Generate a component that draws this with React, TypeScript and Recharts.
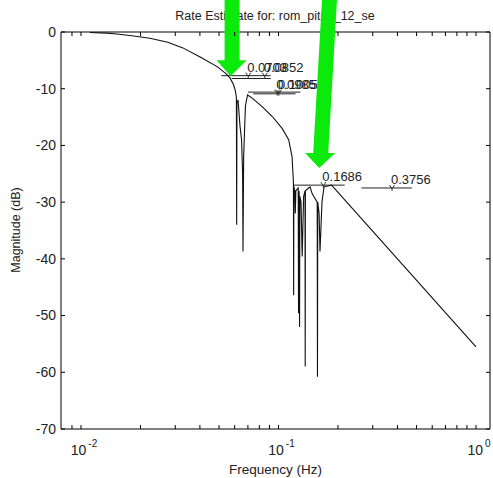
import React from 'react';
import { LineChart, Line, XAxis, YAxis, ReferenceLine, ReferenceDot, Label } from 'recharts';

// magnitude response
const freqHz = [
  0.0111, 0.0135, 0.0152, 0.0185, 0.0223, 0.0275, 0.0328, 0.0401, 0.0489, 0.0540, 0.0568, 0.0592, 0.0604, 0.0612,
  0.0614, 0.0616, 0.0624, 0.0638, 0.0650, 0.0658, 0.0661, 0.0666, 0.0680, 0.0697,
  0.0739, 0.0829, 0.0930, 0.1043, 0.1126, 0.1171, 0.1190,
  0.1193, 0.1196, 0.1208, 0.1216, 0.1224, 0.1258, 0.1263, 0.1268, 0.1273, 0.1278, 0.1283, 0.1300, 0.1318, 0.1340,
  0.1362, 0.1365, 0.1368, 0.1420, 0.1445, 0.1480, 0.1570, 0.1575, 0.1580, 0.1605, 0.1622, 0.1660, 0.1700, 0.1856, 1.0,
];
const magnitudeDb = [
  -0.1, -0.2, -0.35, -0.7, -1.1, -1.8, -2.8, -4.4, -6.1, -7.3, -8.1, -9.3, -10.3, -11.5,
  -34.0, -12.5, -12.0, -16.5, -19.0, -25.0, -38.7, -22.0, -13.0, -11.1,
  -11.7, -13.2, -14.9, -17.0, -19.0, -22.0, -26.5,
  -46.4, -27.2, -28.0, -32.0, -28.0, -27.5, -49.6, -28.0, -28.5, -52.0, -29.0, -30.0, -39.6, -29.0,
  -28.0, -59.0, -28.0, -27.5, -27.3, -28.5, -30.0, -60.8, -30.0, -32.0, -38.7, -30.0, -27.3, -27.0, -55.5,
];

// data cursor bars
const cursorStartHz = [0.0513, 0.058, 0.070, 0.0745, 0.1189, 0.263];
const cursorEndHz = [0.0912, 0.0912, 0.129, 0.122, 0.2163, 0.4732];
const cursorLevelDb = [-7.7, -8.2, -10.6, -10.9, -27.0, -27.5];

const markerHz = [0.0703, 0.0852, 0.0985, 0.1005, 0.1686, 0.3756];
const markerDb = [-7.7, -7.7, -10.7, -10.7, -27.0, -27.5];
const markerText = ['0.0703', '0.0852', '0.0985', '0.1005', '0.1686', '0.3756'];

// green arrows (tip position)
const arrowTipHz = [0.0572, 0.1607];
const arrowTipDb = [-7.8, -24.0];

const xTicks = [
  0.009, 0.01, 0.02, 0.03, 0.04, 0.05, 0.06, 0.07, 0.08, 0.09,
  0.1, 0.2, 0.3, 0.4, 0.5, 0.6, 0.7, 0.8, 0.9, 1,
];
const decadeHz = [0.01, 0.1, 1];
const decadeExp = ['-2', '-1', '0'];
const yTicks = [-70, -60, -50, -40, -30, -20, -10, 0];

const xDomain = [0.00792, 1.177];
const PLOT_TOP = 32;
const PLOT_RIGHT = 490;

const data = freqHz.map((f, i) => ({ f, db: magnitudeDb[i] }));

const XTick = (props: any) => {
  const { x, y, payload } = props;
  const i = decadeHz.findIndex((d) => Math.abs(d - payload.value) < 1e-9);
  return (
    <g>
      <line x1={x} x2={x} y1={y} y2={y - 4} stroke="#000" />
      <line x1={x} x2={x} y1={PLOT_TOP} y2={PLOT_TOP + 4} stroke="#000" />
      {i >= 0 && (
        <text x={x + 3} y={y + 26} textAnchor="middle" fontSize={14} fill="#222">
          10
          <tspan dx={2} dy={-8} fontSize={10}>{decadeExp[i]}</tspan>
        </text>
      )}
    </g>
  );
};

const YTick = (props: any) => {
  const { x, y, payload } = props;
  return (
    <g>
      <line x1={x} x2={x + 4} y1={y} y2={y} stroke="#000" />
      <line x1={PLOT_RIGHT} x2={PLOT_RIGHT - 4} y1={y} y2={y} stroke="#000" />
      <text x={x - 5} y={y} dy="0.35em" textAnchor="end" fontSize={14} fill="#222">
        {payload.value}
      </text>
    </g>
  );
};

const Marker = (text: string) => (props: any) => {
  const { cx, cy } = props;
  return (
    <g>
      <path d={`M${cx - 2.5},${cy - 3} L${cx},${cy + 1} L${cx + 2.5},${cy - 3} M${cx},${cy + 1} L${cx},${cy + 3}`} stroke="#222" fill="none" strokeWidth={0.9} />
      <text x={cx - 1} y={cy - 4} fontSize={13} fill="#222">{text}</text>
    </g>
  );
};

const arrowShapes = [
  'M-6,-80 L9,-80 L9,-16 L16,-16 L0,0 L-14,-16 L-6,-16 Z',
  'M3,-172 L18,-172 L9,-15 L16,-15 L0,0 L-14,-15 L-6,-15 Z',
];

const Arrow = (idx: number) => (props: any) => {
  const { cx, cy } = props;
  return <path d={arrowShapes[idx]} transform={`translate(${cx},${cy})`} fill="#0bea0b" stroke="none" />;
};

export default function App() {
  return (
    <div
      style={{
        position: 'absolute',
        left: 0,
        top: 0,
        width: 493,
        height: 478,
        background: '#fff',
        fontFamily: '"Liberation Sans", Arial, sans-serif',
        overflow: 'hidden',
      }}
    >
      <div
        style={{
          position: 'absolute',
          left: 0,
          top: 9,
          width: 550,
          textAlign: 'center',
          fontSize: 12.5,
          lineHeight: '15px',
          color: '#222',
        }}
      >
        Rate Estimate for: rom_pitch_12_se
      </div>
      <div style={{ position: 'relative' }}>
        <LineChart width={493} height={478} data={data} margin={{ top: 32, right: 3, left: 0, bottom: 0 }}>
          <XAxis
            dataKey="f"
            type="number"
            scale="log"
            domain={xDomain}
            allowDataOverflow
            ticks={xTicks}
            interval={0}
            tickSize={0}
            tickMargin={0}
            tickLine={false}
            tick={<XTick />}
            axisLine={{ stroke: '#000' }}
            height={49}
          >
            <Label
              content={() => (
                <text x={275.5} y={474} textAnchor="middle" fontSize={13.5} fill="#222">
                  Frequency (Hz)
                </text>
              )}
            />
          </XAxis>
          <YAxis
            type="number"
            domain={[-70, 0]}
            ticks={yTicks}
            interval={0}
            tickSize={0}
            tickMargin={0}
            tickLine={false}
            tick={<YTick />}
            axisLine={{ stroke: '#000' }}
            width={61}
          >
            <Label
              content={() => (
                <text x={20} y={230} transform="rotate(-90 20 230)" textAnchor="middle" fontSize={12.5} fill="#222">
                  Magnitude (dB)
                </text>
              )}
            />
          </YAxis>
          <ReferenceLine y={0} stroke="#000" />
          <ReferenceLine x={xDomain[1]} stroke="#000" />
          {cursorStartHz.map((s, i) => (
            <Line
              key={`c${i}`}
              data={[
                { f: s, db: cursorLevelDb[i] },
                { f: cursorEndHz[i], db: cursorLevelDb[i] },
              ]}
              dataKey="db"
              stroke="#222"
              strokeWidth={1}
              dot={false}
              isAnimationActive={false}
            />
          ))}
          <Line dataKey="db" stroke="#111" strokeWidth={1.1} dot={false} isAnimationActive={false} />
          {markerHz.map((m, i) => (
            <ReferenceDot key={`m${i}`} x={m} y={markerDb[i]} r={0} ifOverflow="visible" shape={Marker(markerText[i])} />
          ))}
          {arrowTipHz.map((a, i) => (
            <ReferenceDot key={`a${i}`} x={a} y={arrowTipDb[i]} r={0} ifOverflow="visible" shape={Arrow(i)} />
          ))}
        </LineChart>
      </div>
    </div>
  );
}
